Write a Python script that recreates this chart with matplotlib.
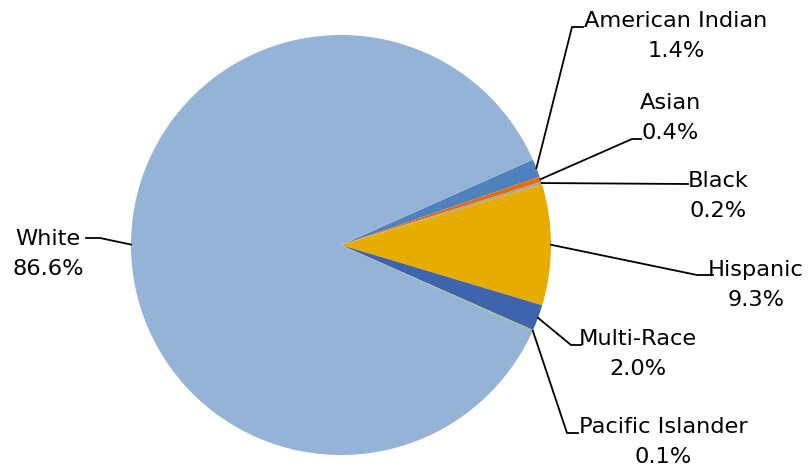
import numpy as np
import matplotlib.pyplot as plt

groups = ["American Indian", "Asian", "Black", "Hispanic", "Multi-Race", "Pacific Islander", "White"]
shares = [1.4, 0.4, 0.2, 9.3, 2.0, 0.1, 86.6]
colors = ["#4F81BD", "#E46C0A", "#A5A5A5", "#E6AC00", "#3F64AE", "#9BBB59", "#95B3D7"]

# label text centres (pixels from top-left) and elbow of leader line
label_pos = [(676, 36), (670, 118), (718, 196), (756, 285), (638, 354), (663, 442), (48, 254)]
elbow = [(572, 27), (632, 139), (688, 184), (697, 275), (571, 345), (567, 433), (100, 238)]
elbow_end = [(583, 27), (641, 139), (688, 184), (713, 275), (581, 345), (578, 433), (86, 238)]

W, H = 811, 468
fig = plt.figure(figsize=(W / 100, H / 100), dpi=100)
ax = fig.add_axes([0, 0, 1, 1])

cx, cy, r = 341, H - 245, 210
wedges, _ = ax.pie(shares, colors=colors, startangle=24, counterclock=False,
                   center=(cx, cy), radius=r, frame=True,
                   wedgeprops=dict(linewidth=0))
ax.set_xlim(0, W)
ax.set_ylim(0, H)
ax.set_aspect("equal")
ax.axis("off")

for i, w in enumerate(wedges):
    mid = np.deg2rad((w.theta1 + w.theta2) / 2)
    x0 = cx + r * np.cos(mid)
    y0 = cy + r * np.sin(mid)
    ex, ey = elbow[i]
    fx, fy = elbow_end[i]
    ax.plot([x0, ex, fx], [y0, H - ey, H - fy], color="black", lw=1.3)
    lx, ly = label_pos[i]
    ax.text(lx, H - ly, f"{groups[i]}\n{shares[i]:.1f}%", ha="center", va="center",
            fontsize=16.2, family="DejaVu Sans", linespacing=1.6, color="#000000")

fig.savefig("out.png", dpi=100)
